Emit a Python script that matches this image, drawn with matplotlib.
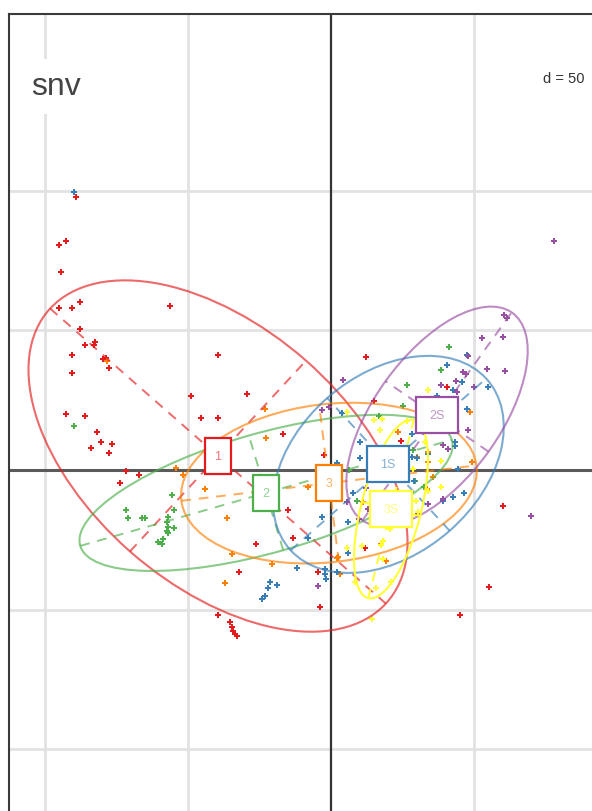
import numpy as np
import matplotlib
matplotlib.use("Agg")
import matplotlib.pyplot as plt
from matplotlib.patches import Ellipse, Rectangle

plt.rcParams["font.family"] = ["Liberation Sans", "DejaVu Sans"]

# groups, in the order they are drawn
groups = ["1", "2", "3", "1S", "2S", "3S"]
colors = ["#E41A1C", "#4DAF4A", "#FF7F00", "#377EB8", "#984EA3", "#FFFF33"]

# class centres and ellipses (data units, angle in degrees)
center_x = [-39.5, -22.7, -0.7, 20.1, 37.1, 21.0]
center_y = [5.0, -8.2, -4.7, 2.0, 19.2, -14.0]
semi_major = [79.0, 67.7, 52.0, 46.0, 45.5, 32.9]
semi_minor = [46.0, 21.4, 28.3, 32.0, 22.0, 10.5]
angles = [-42, 16.3, 7, 42, 55, 76]

# points per group
x1 = [-89.2, -92.7, -95.1, -94.4, -95.1, -90.6, -87.8, -56.3, -87.8, -82.5, -86.0, -82.9, -90.6, -79.7,
      -78.7, -77.6, -90.6, -39.5, -49.0, -29.4, -45.5, -39.5, -92.7, -86.0, -81.8, -80.4, -76.6, -83.9,
      -77.6, -16.8, -71.7, -67.1, -73.8, -15.0, -13.3, -26.2, -32.2, -4.5, -3.8, -39.5, -35.3, -34.6,
      -34.3, -33.6, -32.9, 60.1, 55.2, 45.1, 11.9, 2.4, 12.2, 40.6, 15.0, 24.5, -2.4]
y1 = [97.8, 82.1, 80.6, 71.0, 58.1, 58.1, 60.2, 58.8, 50.5, 45.9, 44.8, 44.8, 41.2, 39.8,
      40.1, 36.6, 34.8, 41.2, 26.5, 27.2, 18.6, 18.6, 20.1, 19.4, 13.6, 10.0, 9.3, 7.9,
      6.1, 12.9, -0.4, -1.8, -4.7, -14.3, -24.4, -26.5, -36.6, -36.6, -49.1, -52.0, -54.5, -56.3,
      -57.7, -58.8, -59.5, -12.9, -41.9, -52.0, -28.0, -31.2, 40.5, 29.7, 24.7, 10.4, 5.4]

x2 = [-89.9, -55.6, -71.7, -71.0, -66.1, -65.0, -54.9, -57.0, -57.3, -57.0, -54.9, -57.0, -58.7, -60.5,
      -59.1, -57.3, 41.3, 38.5, 26.6, 25.2, 29.4, 32.5, 9.1, 28.7, 32.9, 6.3, 16.8]
y2 = [15.8, -9.0, -14.3, -17.2, -17.2, -17.2, -14.3, -16.8, -18.6, -20.4, -20.8, -22.6, -24.7, -25.8,
      -26.5, -21.9, 44.1, 35.8, 30.5, 22.9, -3.9, -6.1, -11.1, 7.2, 10.0, 0.0, 19.4]

x3 = [-78.3, -23.1, -22.7, -44.1, -36.4, -8.0, -37.0, -34.6, -20.6, -54.2, -51.7, 2.1, 3.1, 2.4,
      19.2, 17.5, 11.2, 49.3, 23.4, 48.6, 33.9, 33.9, 33.9, 30.0, 35.7, 33.9, 33.6]
y3 = [39.1, 21.9, 11.5, -6.8, -17.2, -6.1, -40.5, -30.1, -33.7, 0.7, -1.8, -31.5, -37.3, -31.2,
      -32.6, -26.5, -11.5, 2.9, 13.6, 20.8, 5.7, 6.5, 2.9, 4.7, -2.5, -7.5, -6.8]

x1s = [-89.9, -3.1, -11.9, -21.3, -18.9, -22.0, -23.1, -24.1, -2.1, -2.1, -1.7, 2.1, -8.0, 5.9,
       46.5, 42.7, 39.2, 7.7, 5.9, 47.6, 40.6, 45.8, 42.7, 37.0, 54.9, 47.6, 3.8, 10.1,
       10.1, 2.1, 28.3, 43.4, 43.4, 30.0, 33.9, 44.4, 29.0, 28.3]
y1s = [99.6, -16.8, -35.1, -40.1, -41.2, -42.3, -45.2, -46.2, -35.5, -37.3, -39.1, -36.6, -24.4, -18.6,
       -8.2, -9.7, -11.1, -8.2, -29.7, 41.2, 37.6, 31.5, 28.7, 26.5, 29.7, 21.9, 20.4, 10.0,
       4.3, 2.5, 12.9, 10.0, 8.6, 4.3, 5.7, 0.4, -3.9, 4.7]

x2s = [78.0, 60.5, 61.5, 52.8, 60.1, 54.5, 60.8, 47.9, 46.2, 47.2, 43.7, 38.5, 50.0, 44.1,
       4.2, -3.1, -0.7, 47.9, 39.2, 40.9, 69.9, -4.5, 12.2, 33.9, 39.2, 5.6, 9.8, 12.9, 30.4]
y2s = [82.1, 55.6, 54.5, 47.3, 47.7, 36.2, 35.5, 40.9, 35.1, 34.4, 31.9, 30.5, 29.7, 28.0,
       32.3, 21.5, 22.6, 14.3, 9.0, 7.5, -16.5, -41.6, -6.5, -12.2, -10.4, -11.5, -17.6, -14.0, -15.8]

x3s = [33.9, 15.0, 17.8, 5.6, 17.1, 26.6, 32.9, 38.5, 28.7, 38.5, 33.9, 29.7, 30.4, 20.6,
       5.6, 10.8, 18.2, 17.5, 18.2, 8.4, 15.7, 21.0, 14.3]
y3s = [28.7, 17.9, 18.3, 20.8, 14.3, 17.6, 10.0, 3.2, 0.4, -6.1, -7.5, -11.1, -15.1, -21.1,
       -28.0, -27.2, -25.4, -26.9, -31.9, -40.1, -42.3, -40.1, -53.4]

point_x = [x1, x2, x3, x1s, x2s, x3s]
point_y = [y1, y2, y3, y1s, y2s, y3s]

grid_x = [-100, -50, 50]
grid_y = [-100, -50, 50, 100]

fig = plt.figure(figsize=(5.92, 8.12), dpi=100)
ax = fig.add_axes([9 / 592, 0, 583 / 592, 797 / 812])
ax.set_xlim(-112.6, 91.3)
ax.set_ylim(-122.2, 163.4)
ax.set_xticks([])
ax.set_yticks([])
for side in ["right", "bottom"]:
    ax.spines[side].set_visible(False)
for side in ["left", "top"]:
    ax.spines[side].set_linewidth(1.5)
    ax.spines[side].set_color("#3a3a3a")

for g in grid_x:
    ax.axvline(g, color="#e2e2e2", lw=2, zorder=1)
for g in grid_y:
    ax.axhline(g, color="#e2e2e2", lw=2, zorder=1)
ax.axhline(0, color="#5a5a5a", lw=2.2, zorder=2)
ax.axvline(0, color="#333333", lw=1.6, zorder=2)

for i, name in enumerate(groups):
    col = colors[i]
    alpha = 1.0 if name == "3S" else 0.65
    ax.scatter(point_x[i], point_y[i], marker="P", s=17, color=col, linewidths=0, zorder=3)
    ell = Ellipse((center_x[i], center_y[i]), 2 * semi_major[i], 2 * semi_minor[i], angle=angles[i],
                  fill=False, edgecolor=col, lw=1.5, alpha=alpha, zorder=4)
    ax.add_patch(ell)
    # dashed ellipse axes
    t = np.radians(angles[i])
    for length, a in [(semi_major[i], t), (semi_minor[i], t + np.pi / 2)]:
        dx, dy = length * np.cos(a), length * np.sin(a)
        ax.plot([center_x[i] - dx, center_x[i] + dx], [center_y[i] - dy, center_y[i] + dy],
                color=col, lw=1.4, alpha=alpha, dashes=(5, 4), zorder=4)

label_x = [-39.5, -22.7, -0.7, 19.9, 37.1, 21.0]
label_y = [5.0, -8.2, -4.7, 2.2, 19.7, -14.0]
for i, name in enumerate(groups):
    col = colors[i]
    half_w = 4.5 if len(name) == 1 else 7.3
    half_h = 6.5
    ax.add_patch(Rectangle((label_x[i] - half_w, label_y[i] - half_h), 2 * half_w, 2 * half_h,
                           facecolor="white", edgecolor=col, lw=1.6, zorder=5))
    ax.text(label_x[i], label_y[i], name, color=col, alpha=0.6, fontsize=9,
            ha="center", va="center", zorder=6)

ax.text(-104.8, 137.5, "snv", fontsize=23, color="#444444", va="center", ha="left", zorder=6,
        bbox=dict(facecolor="white", edgecolor="none", pad=9))
ax.text(88.7, 140.5, "d = 50", fontsize=10.5, color="#333333", va="center", ha="right", zorder=6,
        bbox=dict(facecolor="white", edgecolor="none", pad=2))

fig.savefig("out.png", dpi=100)
